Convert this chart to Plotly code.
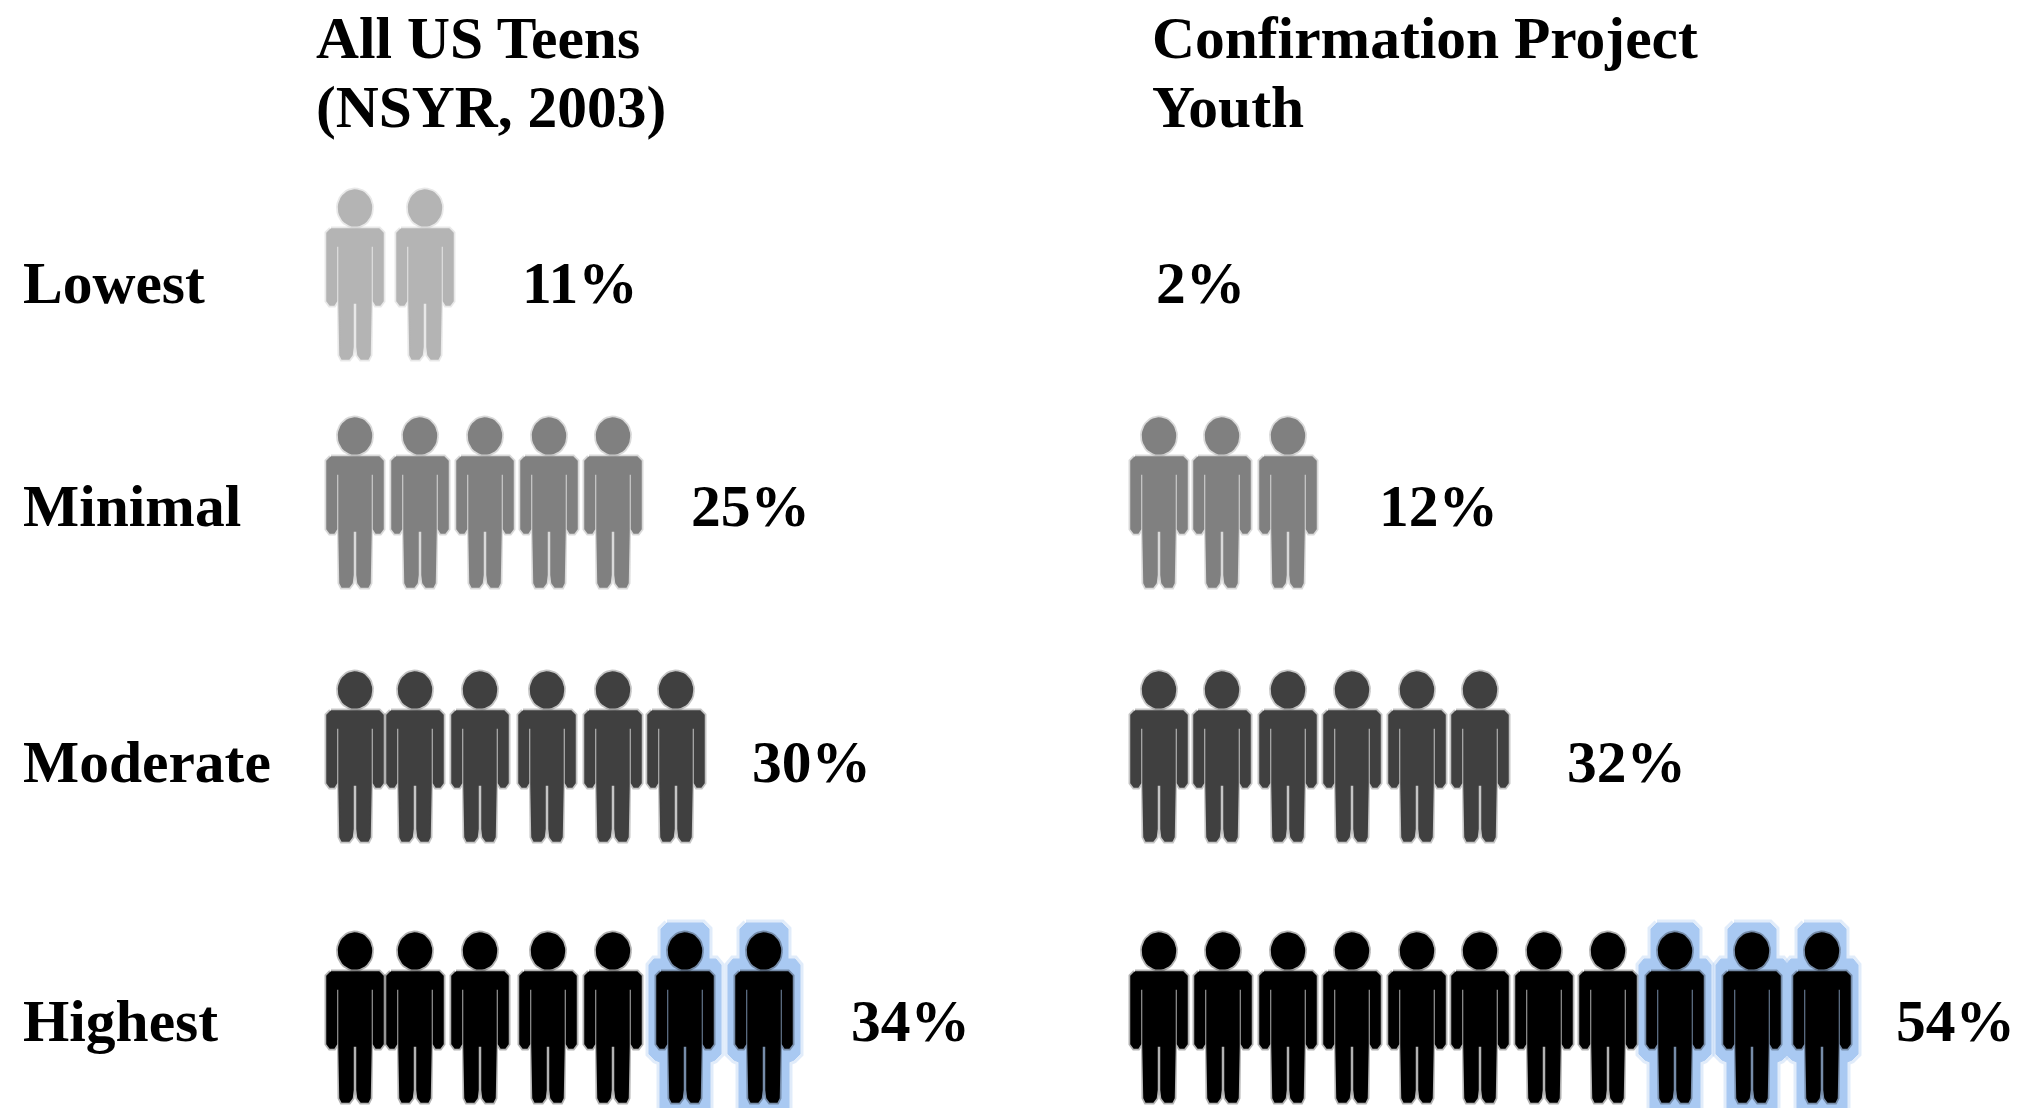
import numpy as np
import plotly.graph_objects as go

# ---- data ----
levels = ["Lowest", "Minimal", "Moderate", "Highest"]
us_title = ["All US Teens", "(NSYR, 2003)"]
cp_title = ["Confirmation Project", "Youth"]
us_pct = [11, 25, 30, 34]
cp_pct = [2, 12, 32, 54]
us_icons = [2, 5, 6, 7]
cp_icons = [0, 3, 6, 11]
us_marked = [0, 0, 0, 2]
cp_marked = [0, 0, 0, 3]

# ---- layout (pixels of the 2020x1108 canvas) ----
W, H = 2020, 1108
level_colors = ["#b4b4b4", "#808080", "#404040", "#000000"]
glow_color = "#a9c9f2"
head_tops = [189, 417, 671, 932]
label_y = [288, 511, 767, 1026]
title_y = [38, 107]
label_x = 23
us_pct_x = [522, 691, 752, 851]
cp_pct_x = [1156, 1379, 1567, 1896]
us_x = [
    [355, 425],
    [355, 420, 485, 549, 613],
    [355, 415, 480, 547, 613, 676],
    [355, 415, 480, 548, 613, 685, 764],
]
cp_x = [
    [],
    [1159, 1222, 1288],
    [1159, 1222, 1288, 1352, 1417, 1480],
    [1159, 1223, 1288, 1352, 1417, 1480, 1544, 1608, 1675, 1752, 1822],
]

# unit silhouette of one person, relative to its centre and head top
angle = np.linspace(0, 2 * np.pi, 40)
HEAD_X = 16.5 * np.cos(angle)
HEAD_Y = 19 + 18 * np.sin(angle)
BODY_X = np.array([-24, 24, 28, 28, 25, 21, 18.5, 18.5, 16, 16, 15, 13, 6, 3, 2, 2, -2, -2, -3, -6, -13, -15,
                   -16, -16, -18.5, -18.5, -21, -25, -28, -28, -24])
BODY_Y = np.array([40, 40, 44, 112, 116, 116, 112, 57, 57, 114, 166, 170, 170, 166, 158, 114, 114, 158, 166, 170,
                   170, 166, 114, 57, 57, 112, 116, 116, 112, 44, 40])
# halo outline round one person
GLOW_X = np.array([-18, 18, 24, 24, 31, 36, 36, 30, 25, 25, -25, -25, -30, -36, -36, -31, -24, -24, -18])
GLOW_Y = np.array([-9, -9, -3, 27, 27, 33, 122, 128, 130, 182, 182, 130, 128, 122, 33, 27, 27, -3, -9])


def polygons(xs, top):
    px, py = [], []
    for x in xs:
        px += list(x + HEAD_X) + [None] + list(x + BODY_X) + [None]
        py += list(top + HEAD_Y) + [None] + list(top + BODY_Y) + [None]
    return px, py


fig = go.Figure()


def add_group(xs, top, color, width):
    px, py = polygons(xs, top)
    fig.add_trace(go.Scatter(
        x=px, y=py, mode="lines", fill="toself",
        fillcolor=color, line=dict(color=color, width=width),
        hoverinfo="skip", showlegend=False,
    ))


def add_glow(x, top):
    for color, width in ((soft(glow_color, 0.35), 7), (glow_color, 1)):
        fig.add_trace(go.Scatter(
            x=x + GLOW_X, y=top + GLOW_Y, mode="lines", fill="toself",
            fillcolor=color, line=dict(color=color, width=width),
            hoverinfo="skip", showlegend=False,
        ))


def soft(color, alpha):
    r, g, b = int(color[1:3], 16), int(color[3:5], 16), int(color[5:7], 16)
    return f"rgba({r},{g},{b},{alpha})"


for xs_all, counts, marked in ((us_x, us_icons, us_marked), (cp_x, cp_icons, cp_marked)):
    for i, n in enumerate(counts):
        xs = xs_all[i][:n]
        if not xs:
            continue
        hl = xs[n - marked[i]:] if marked[i] else []
        for x in hl:
            add_glow(x, head_tops[i])
        add_group(xs, head_tops[i], soft(level_colors[i], 0.3), 5)
        add_group(xs, head_tops[i], level_colors[i], 1.5)

font = dict(family="Liberation Serif", size=59.5, color="#000000", weight=700)

for xs, labels in ((
    [label_x] * len(levels), levels),
    (us_pct_x, [f"{v}%" for v in us_pct]),
    (cp_pct_x, [f"{v}%" for v in cp_pct]),
):
    fig.add_trace(go.Scatter(
        x=xs, y=label_y, text=labels, mode="text",
        textposition="middle right", textfont=font, hoverinfo="skip", showlegend=False,
    ))

for title, x in ((us_title, 314), (cp_title, 1150)):
    for line, y in zip(title, title_y):
        fig.add_annotation(
            x=x, y=y, xref="x", yref="y", text=line, showarrow=False,
            xanchor="left", yanchor="middle", align="left", font=font,
        )

fig.update_layout(
    width=W, height=H, autosize=False,
    margin=dict(l=0, r=0, t=0, b=0),
    paper_bgcolor="#ffffff", plot_bgcolor="#ffffff",
    xaxis=dict(range=[0, W], visible=False, fixedrange=True),
    yaxis=dict(range=[H, 0], visible=False, fixedrange=True),
    showlegend=False,
)
fig.write_html("out.html", post_script="document.body.style.margin='0';document.body.style.overflow='hidden';",
               config={"displayModeBar": False})
